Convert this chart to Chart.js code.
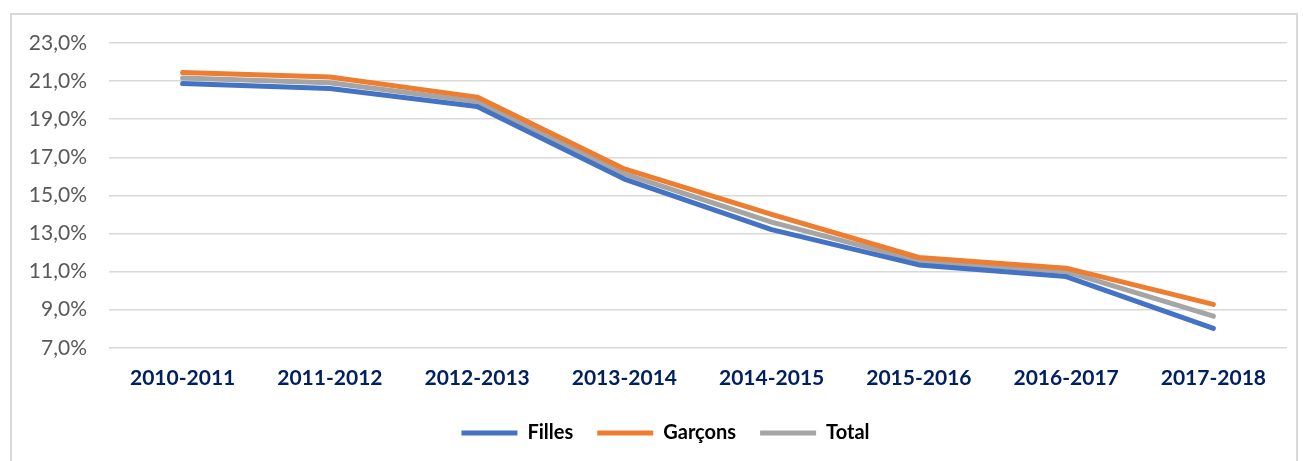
<!DOCTYPE html>
<html>
<head>
<meta charset="utf-8">
<script src="https://cdn.jsdelivr.net/npm/chart.js@4.4.0/dist/chart.umd.min.js"></script>
<style>
  html, body { margin: 0; padding: 0; background: #fff; }
  #cadre { position: absolute; left: 10px; top: 13px; width: 1288px; height: 460px; border: 2px solid #d9d9d9; box-sizing: border-box; }
  #zone { position: absolute; left: 0; top: 0; width: 1303px; height: 461px; }
</style>
</head>
<body>
<div id="cadre"></div>
<div id="zone"><canvas id="graphique"></canvas></div>
<script>
// annees scolaires
const annees = ["2010-2011", "2011-2012", "2012-2013", "2013-2014", "2014-2015", "2015-2016", "2016-2017", "2017-2018"];

// taux en %
const filles  = [20.87, 20.61, 19.67, 15.86, 13.2, 11.35, 10.74, 8.02];
const garcons = [21.45, 21.22, 20.16, 16.39, 14.0, 11.74, 11.18, 9.28];
const total   = [21.16, 20.91, 19.93, 16.13, 13.6, 11.56, 11.0, 8.66];

const nomsSeries = ["Filles", "Garçons", "Total"];
const couleurs = ["#4472C4", "#ED7D31", "#A5A5A5"];

const police = "Lato, 'Open Sans', sans-serif";

function serie(i, valeurs) {
    return {
        label: nomsSeries[i],
        data: valeurs,
        borderColor: couleurs[i],
        backgroundColor: couleurs[i],
        borderWidth: 5,
        borderCapStyle: "round",
        borderJoinStyle: "round",
        pointRadius: 0,
        tension: 0
    };
}

// legende un peu decalee vers la droite comme dans l'original
const decalerLegende = {
    id: "decalerLegende",
    afterLayout(chart) {
        chart.legend.left += 22;
        chart.legend.right += 22;
    }
};

new Chart(document.getElementById("graphique"), {
    type: "line",
    data: {
        labels: annees,
        datasets: [serie(0, filles), serie(1, garcons), serie(2, total)]
    },
    plugins: [decalerLegende],
    options: {
        responsive: true,
        maintainAspectRatio: false,
        animation: false,
        layout: { padding: { left: 0, right: 16, top: 43, bottom: 8 } },
        scales: {
            x: {
                offset: true,
                grid: { display: false },
                border: { display: false },
                afterFit: s => { s.height -= 2; },
                ticks: {
                    color: "#002060",
                    font: { family: police, size: 21, weight: "bold" },
                    padding: 10,
                    maxRotation: 0
                }
            },
            y: {
                min: 7,
                max: 23,
                afterFit: s => { s.width = 109; },
                grid: { color: "#d9d9d9", lineWidth: 1.5, drawTicks: false },
                border: { display: false },
                ticks: {
                    stepSize: 2,
                    color: "#595959",
                    padding: 22,
                    font: { family: police, size: 21 },
                    callback: v => v.toFixed(1).replace(".", ",") + "%"
                }
            }
        },
        plugins: {
            tooltip: { enabled: false },
            legend: {
                position: "bottom",
                labels: {
                    usePointStyle: true,
                    pointStyle: "line",
                    pointStyleWidth: 56,
                    boxHeight: 10,
                    padding: 24,
                    color: "#000",
                    font: { family: police, size: 20, weight: "bold" }
                }
            }
        }
    }
});
</script>
</body>
</html>
